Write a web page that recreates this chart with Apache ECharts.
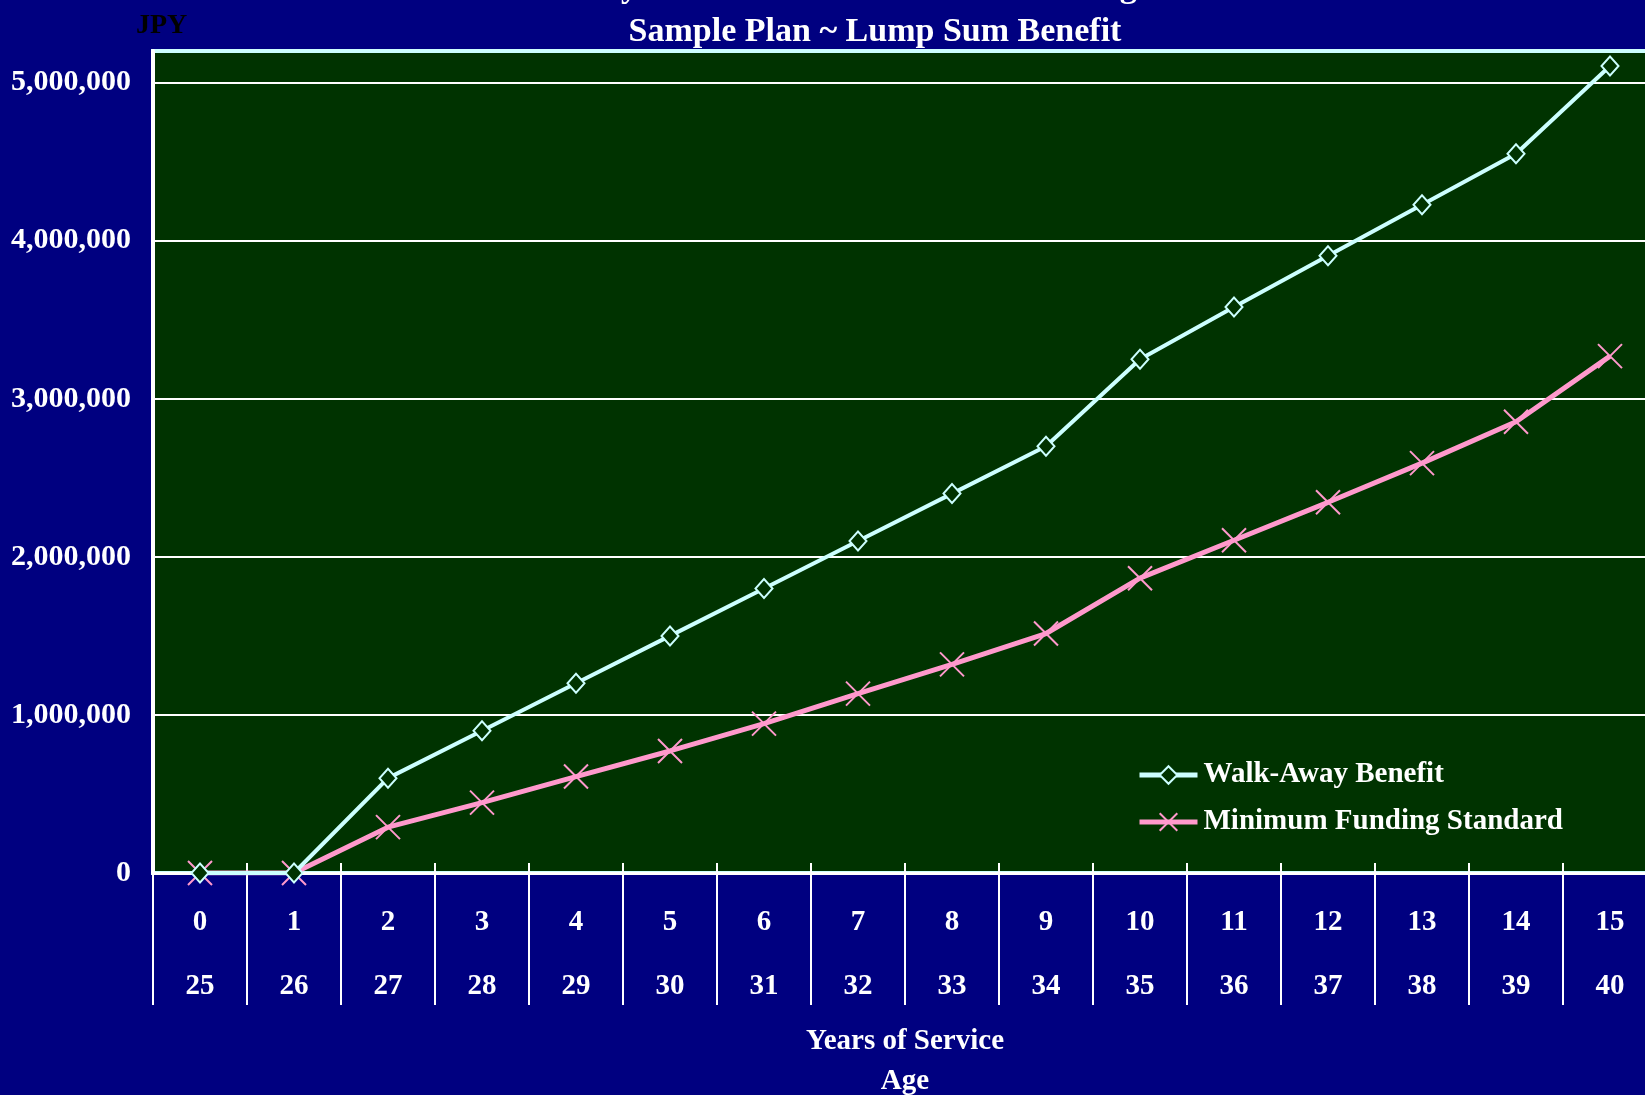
<!DOCTYPE html>
<html>
<head>
<meta charset="utf-8">
<script src="https://cdn.jsdelivr.net/npm/echarts@6/dist/echarts.min.js"></script>
<style>
html,body{margin:0;padding:0;background:#000080;}
#c{width:1645px;height:1095px;}
</style>
</head>
<body>
<div id="c"></div>
<script>
const years = ['0','1','2','3','4','5','6','7','8','9','10','11','12','13','14','15'];
const ages = ['25','26','27','28','29','30','31','32','33','34','35','36','37','38','39','40'];
const walkAway = [0,0,600000,900000,1200000,1500000,1800000,2100000,2400000,2700000,3250000,3580000,3905000,4228000,4550000,5105000];
const minFunding = [0,0,290000,445000,610000,772000,945000,1135000,1320000,1515000,1865000,2105000,2345000,2593000,2855000,3270000];
const seriesNames = ['Walk-Away Benefit','Minimum Funding Standard'];
const titleLines = ['Walk-Away Benefit versus Minimum Funding Standard','Sample Plan ~ Lump Sum Benefit'];
const unitLabel = 'JPY';
const axisNames = ['Years of Service','Age'];

const FF = "'Liberation Serif','Times New Roman',serif";
const chart = echarts.init(document.getElementById('c'));
chart.setOption({
  backgroundColor:'#000080',
  animation:false,
  graphic:[
    {type:'text', x:875, y:-12, z:10,
     style:{text:titleLines[0], fill:'#ffffff', font:"bold 34px " + FF, align:'center', verticalAlign:'middle'}},
    {type:'text', x:875, y:32, z:10,
     style:{text:titleLines[1], fill:'#ffffff', font:"bold 34px " + FF, align:'center', verticalAlign:'middle'}},
    {type:'text', x:136, y:26, z:10,
     style:{text:unitLabel, fill:'#000000', font:"bold 28px " + FF, align:'left', verticalAlign:'middle'}}
  ],
  grid:{left:153, right:-12, top:51, bottom:222, show:true, containLabel:false, outerBoundsMode:'none',
        backgroundColor:'#003300', borderColor:'#ccffff', borderWidth:4},
  legend:{
    orient:'vertical', left:1137, top:759, padding:0,
    itemWidth:58, itemHeight:22, itemGap:15,
    data:[
      {name:seriesNames[0], lineStyle:{width:5}},
      {name:seriesNames[1], lineStyle:{width:5}}
    ],
    textStyle:{color:'#ffffff', fontFamily:FF, fontWeight:'bold', fontSize:29, lineHeight:32, padding:[0,0,0,1]}
  },
  xAxis:[{
    type:'category', data:years, boundaryGap:true,
    axisLine:{lineStyle:{color:'#ffffff', width:3}},
    axisTick:{show:true, length:132, lineStyle:{color:'#ffffff', width:2}},
    axisLabel:{
      margin:18,
      formatter:function(v, i){ return '{a|' + v + '}\n{b|' + ages[i] + '}'; },
      rich:{
        a:{color:'#ffffff', fontFamily:FF, fontWeight:'bold', fontSize:29, lineHeight:64},
        b:{color:'#ffffff', fontFamily:FF, fontWeight:'bold', fontSize:29, lineHeight:64}
      }
    },
    name: axisNames.join('\n'), nameLocation:'middle', nameGap:149,
    nameTextStyle:{color:'#ffffff', fontFamily:FF, fontWeight:'bold', fontSize:29, lineHeight:40}
  },{
    type:'category', data:years, position:'bottom', boundaryGap:true,
    axisLine:{show:false},
    axisTick:{show:true, inside:true, length:10, lineStyle:{color:'#ffffff', width:2}},
    axisLabel:{show:false}
  }],
  yAxis:{
    type:'value', min:0, max:5200000, interval:1000000,
    axisLine:{show:true, lineStyle:{color:'#ffffff', width:4}},
    axisTick:{show:false},
    splitLine:{show:true, showMaxLine:false, lineStyle:{color:'#ffffff', width:2}},
    axisLabel:{
      margin:22, showMaxLabel:false,
      color:'#ffffff', fontFamily:FF, fontWeight:'bold', fontSize:30,
      formatter:function(v){ return Math.round(v).toLocaleString('en-US'); }
    }
  },
  series:[
    {name:seriesNames[0], type:'line', data:walkAway,
     symbol:'diamond', symbolSize:[17,19],
     lineStyle:{color:'#ccffff', width:4},
     itemStyle:{color:'#003300', borderColor:'#ccffff', borderWidth:2},
     z:3},
    {name:seriesNames[1], type:'line', data:minFunding,
     symbol:'path://M0,0L24,24M24,0L0,24', symbolSize:24,
     lineStyle:{color:'#ff99cc', width:5},
     itemStyle:{color:'none', borderColor:'#ff99cc', borderWidth:2},
     z:2}
  ]
});
</script>
</body>
</html>
